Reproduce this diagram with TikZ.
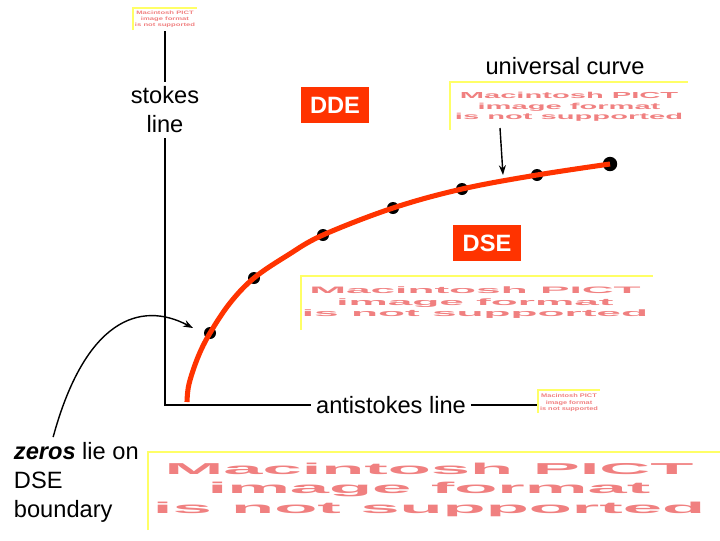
\documentclass[tikz,border=0pt]{standalone}
\usepackage{fontspec}
\setmainfont{Liberation Sans}
\usetikzlibrary{arrows.meta,positioning}
\definecolor{curvered}{RGB}{255,51,0}
\definecolor{pictred}{RGB}{240,128,128}
\definecolor{pictyellow}{RGB}{255,255,102}
\newcommand{\pictmsg}[2]{\resizebox*{#1}{#2}{\bfseries\begin{tabular}{@{}c@{}}Macintosh PICT\\image format\\is not supported\end{tabular}}}

\begin{document}
\begin{tikzpicture}[x=0.025cm, y=-0.025cm, font=\fontsize{16.8}{20.6}\selectfont,
    >={Stealth[length=7pt,width=5pt]},
    axisline/.style={draw, line width=1.4pt},
    regionbox/.style={fill=curvered, text=white, font=\fontsize{16.8}{20}\selectfont\bfseries, minimum width=1.7cm, minimum height=0.92cm},
    pictnote/.style={text=pictred, inner sep=2pt},
    pictframe/.style={draw=pictyellow, line width=1.2pt},
    zerodot/.style={circle, fill=black, inner sep=0pt, minimum size=0.3cm}]
    \useasboundingbox (0,0) rectangle (720,540);

    % Define nodes
    \node [pictnote] (pictA) at (165,19) {\pictmsg{1.5cm}{0.45cm}};
    \node [pictnote] (pictB) at (569,107) {\pictmsg{5.7cm}{0.8cm}};
    \node [pictnote] (pictC) at (475,303) {\pictmsg{8.65cm}{0.86cm}};
    \node [pictnote] (pictD) at (569,403) {\pictmsg{1.45cm}{0.48cm}};
    \node [pictnote] (pictE) at (429,490) {\pictmsg{13.8cm}{1.45cm}};
    \node [align=center] (stokes) at (165,110) {stokes\\line};
    \node (antistokes) at (391,405) {antistokes line};
    \node (universal) at (565,66) {universal curve};
    \node [regionbox] (dde) at (335,105) {DDE};
    \node [regionbox] (dse) at (487,243) {DSE};
    \node [align=left, anchor=west] (zeros) at (9,482) {\textbf{\textit{zeros}} lie on\\DSE\\boundary};
    \coordinate (origin) at (165,405);
    \coordinate (ucfrom) at (500,128);
    \coordinate (ucto) at (503,175);
    \coordinate (zerotip) at (193,328);

    % Picture frames
    \draw [pictframe] (133,30) |- (197,8);
    \draw [pictframe] (450,130) |- (688,82);
    \draw [pictframe] (301,330) |- (653,276);
    \draw [pictframe] (538,413) |- (600,390);
    \draw [pictframe] (148,530) |- (720,452);

    % Zeros and the curve
    \foreach \x/\y [count=\i] in {210/333, 254/278, 323/235, 393/208, 462/189, 537/175}
        \node [zerodot] (z\i) at (\x,\y) {};
    \node [zerodot, minimum size=0.36cm] (z7) at (610,164) {};
    \draw [curvered, line width=3.6pt] plot[smooth, tension=0.6] coordinates {(187,402) (189,384) (198,357) (210,333) (230,303) (254,278) (288,255) (323,235) (393,208) (462,189) (537,175) (610,164)};

    % Draw edges
    \draw [axisline] (pictA) -- (stokes) -- (origin) -- (antistokes) -- (antistokes -| pictD.west);
    \draw [->, line width=1pt] (ucfrom) -- (ucto);
    \draw [->, line width=1pt] ([xshift=-0.58cm]zeros.north) .. controls (85,320) and (140,300) .. (zerotip);
\end{tikzpicture}
\end{document}
